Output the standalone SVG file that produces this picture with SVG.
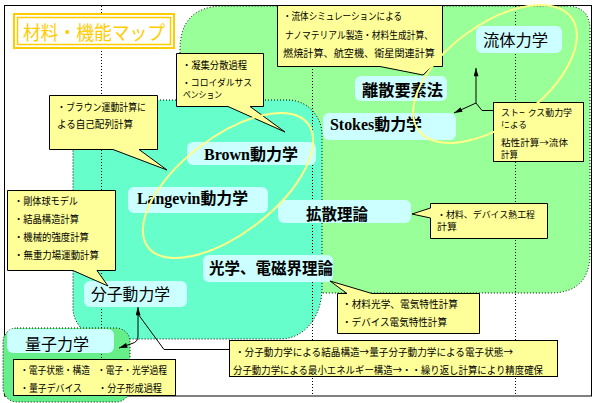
<svg xmlns="http://www.w3.org/2000/svg" width="597" height="403" viewBox="0 0 597 403">
<style>
.region{stroke:#000;stroke-width:1;stroke-dasharray:1 2}
.grid{stroke:#000;stroke-width:1;stroke-dasharray:1 2;fill:none}
.lbl{fill:#CCFFFF}
.lt{font-family:"Noto Sans CJK JP","Noto Sans",sans-serif;font-size:16px;fill:#000}
.lb{font-family:"Noto Sans CJK JP","Noto Sans",sans-serif;font-size:16px;font-weight:bold;fill:#000}
.lat{font-family:"Liberation Serif",serif;font-weight:bold}
.co{fill:#FFFF99;stroke:#000;stroke-width:1}
.ct{font-family:"Noto Sans CJK JP","Noto Sans",sans-serif;font-size:10px;fill:#000}
.cs{font-family:"Noto Sans CJK JP","Noto Sans",sans-serif;font-size:9px;fill:#000}
.ell{fill:none;stroke:#FFFF88;stroke-width:2}
.conn{fill:none;stroke:#000;stroke-width:1}
</style>
<defs>
<marker id="ah" viewBox="0 0 10 6" refX="10" refY="3" markerWidth="9" markerHeight="5" markerUnits="userSpaceOnUse" orient="auto">
<path d="M0,0 L10,3 L0,6 Z" fill="#000"/>
</marker>
</defs>
<rect x="0" y="0" width="597" height="403" fill="#fff"/>
<rect x="4.5" y="5.5" width="587" height="390.5" fill="none" stroke="#000" stroke-width="1"/>

<g id="regions">
<path id="green" class="region" fill="#99FF99" d="M180,50 Q180,6 224,6 L566,6 Q590,6 590,30 L590,253 Q590,293 550,293 L200,293 L180,273 Z"/>
<path id="teal" class="region" fill="#66FFCC" d="M73,100 L288,100 C306,100 322,115 322,135 L322,288 C322,316 305,339 280,339 L108,339 C88,339 73,325 73,308 Z"/>
<rect id="quantum" class="region" fill="#66EE88" x="3" y="328" width="127" height="74" rx="14"/>
</g>

<g id="gridlines">
<line class="grid" x1="101.5" y1="6" x2="101.5" y2="396"/>
<line class="grid" x1="312.5" y1="6" x2="312.5" y2="396"/>
<line class="grid" x1="515.5" y1="6" x2="515.5" y2="396"/>
</g>

<g id="title">
<rect x="14" y="14" width="160" height="34" fill="#fff" stroke="#FFCC00" stroke-width="2"/>
<rect x="17.5" y="17.5" width="153" height="27" fill="none" stroke="#FFCC00" stroke-width="1.5"/>
<text x="23" y="40" font-family="'Noto Sans CJK JP','Noto Sans',sans-serif" font-size="19" fill="#FFCC00" textLength="142" lengthAdjust="spacingAndGlyphs">材料・機能マップ</text>
</g>

<g id="node-fluid">
<rect class="lbl" x="476" y="26" width="86" height="27" rx="6"/>
<text class="lt" x="483" y="46" textLength="65" lengthAdjust="spacingAndGlyphs">流体力学</text>
</g>
<g id="node-dem">
<rect class="lbl" x="355" y="76" width="92" height="25" rx="6"/>
<text class="lb" x="362" y="96" textLength="81" lengthAdjust="spacingAndGlyphs">離散要素法</text>
</g>
<g id="node-stokes">
<rect class="lbl" x="323" y="113" width="133" height="27" rx="6"/>
<text class="lb" x="330" y="130" textLength="92" lengthAdjust="spacingAndGlyphs"><tspan class="lat">Stokes</tspan>動力学</text>
</g>
<g id="node-brown">
<rect class="lbl" x="187" y="142" width="129" height="23" rx="6"/>
<text class="lb" x="204" y="160" textLength="94" lengthAdjust="spacingAndGlyphs"><tspan class="lat">Brown</tspan>動力学</text>
</g>
<g id="node-langevin">
<rect class="lbl" x="128" y="187" width="140" height="26" rx="6"/>
<text class="lb" x="137" y="204" textLength="111" lengthAdjust="spacingAndGlyphs"><tspan class="lat">Langevin</tspan>動力学</text>
</g>
<g id="node-diffusion">
<rect class="lbl" x="278" y="200" width="133" height="23" rx="6"/>
<text class="lb" x="306" y="220" textLength="62" lengthAdjust="spacingAndGlyphs">拡散理論</text>
</g>
<g id="node-optics">
<rect class="lbl" x="203" y="255" width="130" height="27" rx="6"/>
<text class="lb" x="209" y="274" textLength="124" lengthAdjust="spacingAndGlyphs">光学、電磁界理論</text>
</g>
<g id="node-md">
<rect class="lbl" x="84" y="281" width="103" height="26" rx="6"/>
<text class="lt" x="91" y="300" textLength="79" lengthAdjust="spacingAndGlyphs">分子動力学</text>
</g>
<g id="node-qm">
<rect class="lbl" x="7" y="329" width="107" height="24" rx="6"/>
<text class="lt" x="25" y="350" textLength="64" lengthAdjust="spacingAndGlyphs">量子力学</text>
</g>

<g id="callout-fluid">
<path class="co" d="M277.5,5.5 H442.5 V66.5 H432 L423,75 L380,66.5 H277.5 Z"/>
<text class="ct" x="283" y="20" textLength="119" lengthAdjust="spacingAndGlyphs">・流体シミュレーションによる</text>
<text class="ct" x="285" y="39" textLength="148" lengthAdjust="spacingAndGlyphs">ナノマテリアル製造・材料生成計算、</text>
<text class="ct" x="283" y="57" textLength="152" lengthAdjust="spacingAndGlyphs">燃焼計算、航空機、衛星関連計算</text>
</g>
<g id="callout-colloid">
<path class="co" d="M176.5,53.5 H263.5 V106.5 H250 L285,132 L228,106.5 H176.5 Z"/>
<text class="ct" x="182" y="69" textLength="65" lengthAdjust="spacingAndGlyphs">・凝集分散過程</text>
<text class="cs" x="182" y="86" textLength="70" lengthAdjust="spacingAndGlyphs">・コロイダルサス</text>
<text class="cs" x="183" y="97.5" textLength="39" lengthAdjust="spacingAndGlyphs">ペンション</text>
</g>
<g id="callout-brown">
<path class="co" d="M49.5,95.5 H157.5 V149.5 H139 L167,170 L113,149.5 H49.5 Z"/>
<text class="ct" x="57" y="111" textLength="89" lengthAdjust="spacingAndGlyphs">・ブラウン運動計算に</text>
<text class="ct" x="57" y="128" textLength="76" lengthAdjust="spacingAndGlyphs">よる自己配列計算</text>
</g>
<g id="callout-md">
<path class="co" d="M7.5,190.5 H115.5 V270.5 H97 L108,286 L73,270.5 H7.5 Z"/>
<text class="ct" x="14" y="205" textLength="64" lengthAdjust="spacingAndGlyphs">・剛体球モデル</text>
<text class="ct" x="14" y="223" textLength="65" lengthAdjust="spacingAndGlyphs">・結晶構造計算</text>
<text class="ct" x="14" y="241" textLength="75" lengthAdjust="spacingAndGlyphs">・機械的強度計算</text>
<text class="ct" x="14" y="259" textLength="85" lengthAdjust="spacingAndGlyphs">・無重力場運動計算</text>
</g>
<g id="callout-stokes">
<rect class="co" x="493.5" y="102.5" width="90" height="59"/>
<text class="cs" x="501" y="116" textLength="71" lengthAdjust="spacingAndGlyphs">ストークス動力学</text>
<text class="cs" x="501" y="127.5" textLength="26" lengthAdjust="spacingAndGlyphs">による</text>
<text class="cs" x="501" y="146" textLength="67" lengthAdjust="spacingAndGlyphs">粘性計算→流体</text>
<text class="cs" x="501" y="157.5" textLength="17" lengthAdjust="spacingAndGlyphs">計算</text>
</g>
<g id="callout-thermal">
<path class="co" d="M430.5,203.5 H547.5 V238.5 H430.5 V218 L412,214 L430.5,208 Z"/>
<text class="cs" x="437" y="217.5" textLength="98" lengthAdjust="spacingAndGlyphs">・材料、デバイス熱工程</text>
<text class="cs" x="437" y="230" textLength="20" lengthAdjust="spacingAndGlyphs">計算</text>
</g>
<g id="callout-optics">
<path class="co" d="M337.5,293.5 H347 L330,281 L372,293.5 H479.5 V333.5 H337.5 Z"/>
<text class="ct" x="342" y="308" textLength="116" lengthAdjust="spacingAndGlyphs">・材料光学、電気特性計算</text>
<text class="ct" x="342" y="326" textLength="105" lengthAdjust="spacingAndGlyphs">・デバイス電気特性計算</text>
</g>
<g id="callout-cycle">
<rect class="co" x="229.5" y="340.5" width="328" height="36"/>
<text class="ct" x="235" y="356" textLength="278" lengthAdjust="spacingAndGlyphs">・分子動力学による結晶構造→量子分子動力学による電子状態→</text>
<text class="ct" x="233" y="374" textLength="310" lengthAdjust="spacingAndGlyphs">分子動力学による最小エネルギー構造→・・繰り返し計算により精度確保</text>
</g>
<g id="callout-qm">
<rect class="co" x="13.5" y="359.5" width="162" height="36"/>
<text class="ct" x="20" y="374" textLength="70" lengthAdjust="spacingAndGlyphs">・電子状態・構造</text>
<text class="ct" x="97" y="374" textLength="70" lengthAdjust="spacingAndGlyphs">・電子・光学過程</text>
<text class="ct" x="20" y="392" textLength="62" lengthAdjust="spacingAndGlyphs">・量子デバイス</text>
<text class="ct" x="98" y="392" textLength="64" lengthAdjust="spacingAndGlyphs">・分子形成過程</text>
</g>

<g id="connectors">
<path class="conn" d="M493,110.5 H482 L476,103"/>
<path class="conn" d="M476,103 V68" marker-end="url(#ah)"/>
<path class="conn" d="M476,103 L454,113" marker-end="url(#ah)"/>
<path class="conn" d="M229,349.5 H164 L138,314"/>
<path class="conn" d="M138,316 V307" marker-end="url(#ah)"/>
<path class="conn" d="M138,316 V336 Q138,342 132,343.5 L119,348" marker-end="url(#ah)"/>
</g>

<g id="groupings">
<ellipse class="ell" cx="228" cy="185.5" rx="101" ry="48" transform="rotate(-37.7 228 185.5)"/>
<ellipse class="ell" cx="495" cy="74" rx="95" ry="49.4" transform="rotate(-36.4 495 74)"/>
</g>
</svg>
